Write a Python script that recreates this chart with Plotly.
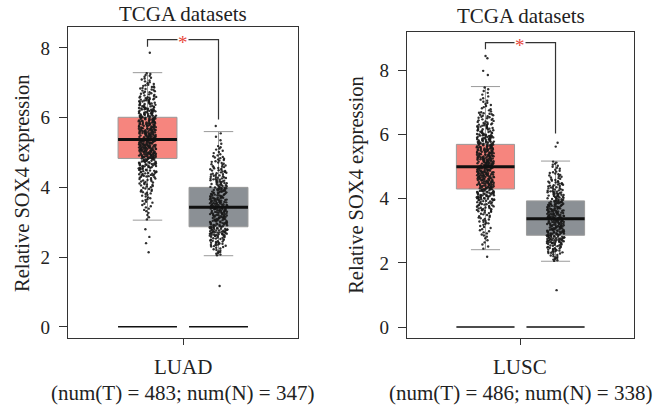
import plotly.graph_objects as go

# ---------------- data ----------------
panels = ["LUAD", "LUSC"]
panel_notes = ["(num(T) = 483; num(N) = 347)", "(num(T) = 486; num(N) = 338)"]
groups = ["Tumor", "Normal"]

# box statistics [Tumor, Normal]
luad_q1 = [4.83, 2.87]
luad_median = [5.37, 3.43]
luad_q3 = [6.01, 4.00]
luad_lowerfence = [3.06, 2.04]
luad_upperfence = [7.29, 5.60]

lusc_q1 = [4.30, 2.86]
lusc_median = [4.99, 3.37]
lusc_q3 = [5.69, 3.93]
lusc_lowerfence = [2.41, 2.05]
lusc_upperfence = [7.49, 5.17]

# point distributions: bin edges + counts per bin, plus isolated outliers
luad_t_edges = [3.05, 3.3, 3.55, 3.8, 4.05, 4.3, 4.55, 4.83, 5.1, 5.37, 5.69, 6.01, 6.3, 6.6, 6.95, 7.29]
luad_t_counts = [4, 7, 10, 14, 18, 28, 40, 58, 63, 65, 56, 45, 34, 23, 13]
luad_t_outliers = [7.86, 2.80, 2.58, 2.40, 2.14]

luad_n_edges = [2.04, 2.3, 2.6, 2.87, 3.15, 3.43, 3.7, 4.0, 4.3, 4.6, 4.9, 5.2, 5.6]
luad_n_counts = [12, 28, 46, 42, 45, 45, 41, 32, 24, 17, 9, 4]
luad_n_outliers = [5.76, 1.17]

lusc_t_edges = [2.41, 2.8, 3.2, 3.6, 3.95, 4.3, 4.65, 4.99, 5.34, 5.69, 6.0, 6.35, 6.7, 7.1, 7.49]
lusc_t_counts = [6, 12, 20, 32, 50, 58, 62, 64, 57, 45, 34, 22, 12, 7]
lusc_t_outliers = [8.44, 8.37, 7.98, 7.85, 2.19]

lusc_n_edges = [2.05, 2.3, 2.6, 2.86, 3.12, 3.37, 3.65, 3.93, 4.25, 4.55, 4.85, 5.17]
lusc_n_counts = [12, 28, 44, 42, 42, 44, 40, 34, 24, 15, 10]
lusc_n_outliers = [5.74, 5.62, 1.15]

# significance brackets: [bracket y, left leg end, right leg end]
luad_bracket = [8.24, 8.03, 5.95]
lusc_bracket = [8.86, 8.65, 6.03]

y_ticks = [0, 2, 4, 6, 8]


def expand(edges, counts, extra):
    vals = list(extra)
    for lo, hi, c in zip(edges[:-1], edges[1:], counts):
        step = (hi - lo) / c
        vals += [lo + step * (k + 0.5) for k in range(c)]
    return vals


FONT = "Liberation Serif"
TXT = "#222"
T_FILL = "#F6857E"
N_FILL = "#8B9095"
POS = [-0.5, 0.5]
BW = 0.83

fig = go.Figure()

panel_data = [
    dict(q1=luad_q1, med=luad_median, q3=luad_q3, lf=luad_lowerfence, uf=luad_upperfence,
         pts=[expand(luad_t_edges, luad_t_counts, luad_t_outliers),
              expand(luad_n_edges, luad_n_counts, luad_n_outliers)],
         br=luad_bracket, xa="x", ya="y"),
    dict(q1=lusc_q1, med=lusc_median, q3=lusc_q3, lf=lusc_lowerfence, uf=lusc_upperfence,
         pts=[expand(lusc_t_edges, lusc_t_counts, lusc_t_outliers),
              expand(lusc_n_edges, lusc_n_counts, lusc_n_outliers)],
         br=lusc_bracket, xa="x2", ya="y2"),
]

for pd_ in panel_data:
    xa, ya = pd_["xa"], pd_["ya"]
    for gi, fill in enumerate([T_FILL, N_FILL]):
        x0 = POS[gi]
        # zero line under each box
        fig.add_trace(go.Scatter(x=[x0 - BW / 2, x0 + BW / 2], y=[0, 0], mode="lines",
                                 line=dict(color="#111", width=1.5), xaxis=xa, yaxis=ya,
                                 showlegend=False, hoverinfo="skip"))
        # box from statistics
        fig.add_trace(go.Box(x=[x0], q1=[pd_["q1"][gi]], median=[pd_["med"][gi]], q3=[pd_["q3"][gi]],
                             lowerfence=[pd_["lf"][gi]], upperfence=[pd_["uf"][gi]],
                             width=BW, whiskerwidth=0.5, fillcolor=fill,
                             line=dict(color="#9a9a9a", width=1), boxpoints=False,
                             name=groups[gi], xaxis=xa, yaxis=ya, showlegend=False))
        # jittered points
        vals = pd_["pts"][gi]
        fig.add_trace(go.Box(x=[x0] * len(vals), y=vals, boxpoints="all", jitter=0.3, pointpos=0,
                             width=BW, fillcolor="rgba(0,0,0,0)",
                             line=dict(color="rgba(0,0,0,0)", width=0),
                             marker=dict(size=2.4, color="#1a1a1a", opacity=0.9),
                             name=groups[gi], xaxis=xa, yaxis=ya, showlegend=False))
        # thick median line
        fig.add_trace(go.Scatter(x=[x0 - BW / 2, x0 + BW / 2], y=[pd_["med"][gi]] * 2, mode="lines",
                                 line=dict(color="#111", width=3), xaxis=xa, yaxis=ya,
                                 showlegend=False, hoverinfo="skip"))
    # significance bracket
    by, ly, ry = pd_["br"]
    fig.add_trace(go.Scatter(x=[POS[0], POS[0], POS[1], POS[1]], y=[ly, by, by, ry], mode="lines",
                             line=dict(color="#333", width=1.2), xaxis=xa, yaxis=ya,
                             showlegend=False, hoverinfo="skip"))
    fig.add_annotation(x=0, y=by, xref=xa, yref=ya, text="*", showarrow=False,
                       xanchor="center", yanchor="middle",
                       font=dict(family=FONT, size=19, color="#E8473C"),
                       bgcolor="white", yshift=-3, borderpad=0)

axis_common = dict(showline=True, mirror=True, linecolor="#333", linewidth=1.2,
                   showgrid=False, zeroline=False, ticks="outside", tickcolor="#333")

fig.update_layout(
    width=662, height=409, margin=dict(l=0, r=0, t=0, b=0),
    plot_bgcolor="white", paper_bgcolor="white", showlegend=False,
    font=dict(family=FONT, size=19, color=TXT),
    xaxis=dict(domain=[0.1027, 0.4502], range=[-1.62, 1.62], tickvals=[0], ticklen=6,
               showticklabels=False, **axis_common),
    yaxis=dict(domain=[0.1736, 0.934], range=[-0.32, 8.6], tickvals=y_ticks, ticklen=8,
               ticklabelstandoff=5,
               tickfont=dict(family=FONT, size=19, color=TXT), **axis_common),
    xaxis2=dict(domain=[0.6148, 0.9577], range=[-1.62, 1.62], tickvals=[0], ticklen=6,
                showticklabels=False, anchor="y2", **axis_common),
    yaxis2=dict(domain=[0.1736, 0.9218], range=[-0.34, 9.19], tickvals=y_ticks, ticklen=8,
                ticklabelstandoff=5,
                tickfont=dict(family=FONT, size=19, color=TXT), anchor="x2", **axis_common),
)

title_pos = [(0.2764, 1 - 14 / 409), (0.787, 1 - 16 / 409)]
ytitle_pos = [(0.0332, 1 - 183 / 409), (0.539, 1 - 185 / 409)]
label_x = [0.2764, 0.7855]
for i in range(2):
    fig.add_annotation(x=title_pos[i][0], y=title_pos[i][1], xref="paper", yref="paper",
                       xanchor="center", yanchor="middle",
                       text="TCGA datasets", showarrow=False, font=dict(family=FONT, size=21, color=TXT))
    fig.add_annotation(x=ytitle_pos[i][0], y=ytitle_pos[i][1], xref="paper", yref="paper",
                       xanchor="center", yanchor="middle",
                       text="Relative SOX4 expression", textangle=-90, showarrow=False,
                       font=dict(family=FONT, size=20.5, color=TXT))
    fig.add_annotation(x=label_x[i], y=1 - 367 / 409, xref="paper", yref="paper",
                       xanchor="center", yanchor="middle",
                       text=panels[i], showarrow=False, font=dict(family=FONT, size=21, color=TXT))
    fig.add_annotation(x=label_x[i], y=1 - 393 / 409, xref="paper", yref="paper",
                       xanchor="center", yanchor="middle",
                       text=panel_notes[i], showarrow=False, font=dict(family=FONT, size=21, color=TXT))

fig.write_html("out.html", config={"displayModeBar": False},
               post_script="document.body.style.margin='0';")
